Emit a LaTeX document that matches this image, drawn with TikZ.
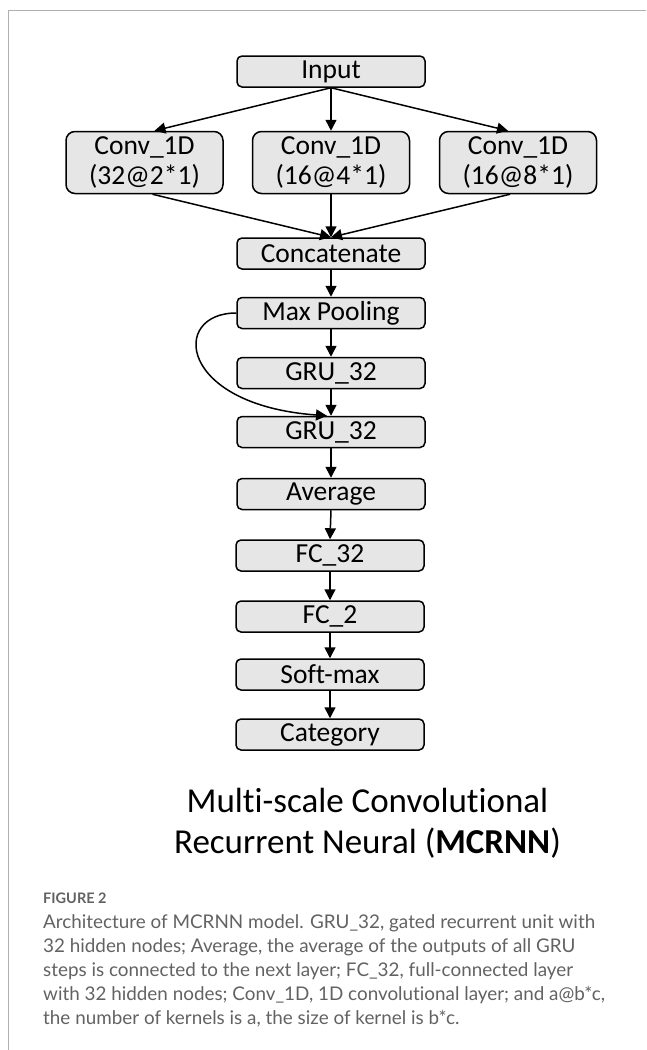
\documentclass[tikz,border=0pt]{standalone}
\usepackage{fontspec}
\setmainfont{Carlito}[Ligatures={NoCommon}]
\newfontfamily\capfont{Lato}[Ligatures={NoCommon}]
\usetikzlibrary{arrows.meta,calc}
\definecolor{boxfill}{HTML}{E6E6E6}
\definecolor{framecol}{HTML}{B0B0B0}
\definecolor{captxt}{HTML}{626262}
\tikzset{
 blk/.style={draw=black, line width=1.5pt, fill=boxfill, rounded corners=5pt, minimum width=188pt, minimum height=31pt, inner sep=0pt, font=\fontsize{27.5}{30}\selectfont},
 convbox/.style={blk, minimum width=157pt, minimum height=62pt, rounded corners=9pt, align=center, font=\fontsize{27.5}{30}\selectfont},
 arr/.style={line width=1.5pt, -{Triangle[length=11pt,width=11pt]}},
 capline/.style={anchor=base west, text=captxt, inner sep=0pt, font=\capfont\fontsize{18.85}{24}\selectfont},
 ttl/.style={anchor=base, inner sep=0pt, font=\fontsize{35}{41}\selectfont},
}
\begin{document}
\begin{tikzpicture}[x=1pt,y=-1pt]
\useasboundingbox (0,0) rectangle (646,1050);
\coordinate (ftl) at (8,10); \coordinate (ftr) at (646,10); \coordinate (fbl) at (8,1050);
\draw[framecol, line width=1pt] (ftr) -- (ftl) -- (fbl);
\node[blk] (inp) at (331,71.5) {Input};
\node[convbox] (c1) at (144.5,162.5) {Conv\_1D\\(32@2*1)};
\node[convbox] (c2) at (331,162.5) {Conv\_1D\\(16@4*1)};
\node[convbox] (c3) at (518,162.5) {Conv\_1D\\(16@8*1)};
\node[blk] (cat) at (331,253.5) {Concatenate};
\node[blk] (mp) at (331,313) {Max Pooling};
\node[blk] (g1) at (331,373) {GRU\_32};
\node[blk] (g2) at (331,432) {GRU\_32};
\node[blk] (avg) at (331,494) {Average};
\node[blk] (fca) at (330,555.5) {FC\_32};
\node[blk] (fcb) at (330,616.5) {FC\_2};
\node[blk] (sm) at (330,674.5) {Soft-max};
\node[blk] (cy) at (330,734.5) {Category};
\draw[arr] (inp.south) -- ($(c1.north)+(10,0)$);
\draw[arr] (inp.south) -- (c2.north);
\draw[arr] (inp.south) -- ($(c3.north)+(-10,0)$);
\draw[arr] ($(c1.south)+(8,0)$) -- (cat.north);
\draw[arr] (c2.south) -- (cat.north);
\draw[arr] ($(c3.south)+(-8,0)$) -- (cat.north);
\draw[arr] (cat.south) -- (mp.north);
\draw[arr] (mp.south) -- (g1.north);
\draw[arr] (g1.south) -- (g2.north);
\draw[arr] (mp.west) .. controls (170,313) and (178,405) .. ($(g2.north)+(-4,0)$);
\draw[arr] (g2.south) -- (avg.north);
\draw[arr] (avg.south) -- (fca.north);
\draw[arr] (fca.south) -- (fcb.north);
\draw[arr] (fcb.south) -- (sm.north);
\draw[arr] (sm.south) -- (cy.north);
\node[ttl] (t1) at (367.5,812) {Multi-scale Convolutional};
\node[ttl] (t2) at (367.5,853) {Recurrent Neural (\textbf{MCRNN})};
\node[capline, font=\capfont\bfseries\fontsize{14.5}{18}\selectfont] (fig) at (43,903) {FIGURE 2};
\node[capline] (l1) at (43,928) {Architecture of MCRNN model. GRU\_32, gated recurrent unit with};
\node[capline] (l2) at (43,952) {32 hidden nodes; Average, the average of the outputs of all GRU};
\node[capline] (l3) at (43,976) {steps is connected to the next layer; FC\_32, full-connected layer};
\node[capline] (l4) at (43,1000) {with 32 hidden nodes; Conv\_1D, 1D convolutional layer; and a@b*c,};
\node[capline] (l5) at (43,1024) {the number of kernels is a, the size of kernel is b*c.};
\end{tikzpicture}
\end{document}
